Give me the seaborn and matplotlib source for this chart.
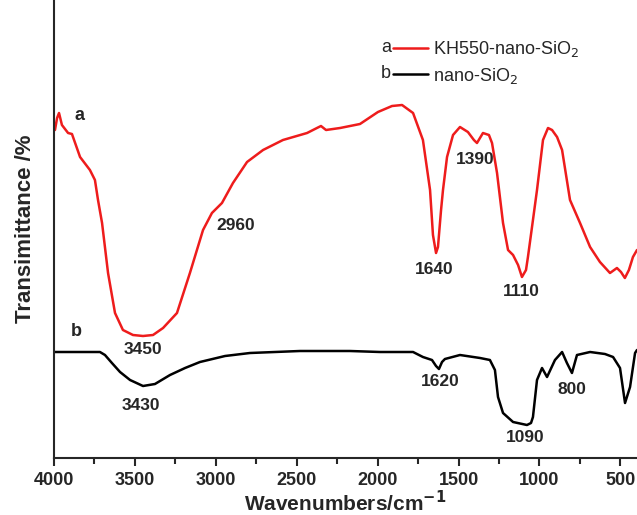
import numpy as np
import pandas as pd
import matplotlib
matplotlib.use("Agg")
import matplotlib.pyplot as plt
import seaborn as sns
from matplotlib.ticker import MultipleLocator

# FTIR spectra: wavenumber (cm-1) and transmittance (arbitrary offset units)
wn_a = [3994, 3981, 3969, 3951, 3913, 3889, 3839, 3778, 3747, 3728, 3703, 3666,
        3623, 3574, 3512, 3450, 3388, 3326, 3240, 3160, 3079, 3024, 2962, 2894,
        2807, 2708, 2585, 2436, 2375, 2350, 2319, 2232, 2109, 1998, 1911, 1849,
        1781, 1720, 1676, 1658, 1639, 1627, 1608, 1596, 1571, 1534, 1491, 1442,
        1405, 1386, 1349, 1312, 1293, 1262, 1225, 1194, 1163, 1132, 1108, 1083,
        1071, 1040, 1015, 978, 947, 922, 891, 860, 811, 749, 687, 626, 564, 521,
        496, 472, 447, 422, 397]
t_a = [82.5, 85.5, 86.75, 83.75, 81.75, 81.5, 75.75, 72.5, 70, 65, 59.25, 46.75,
       36.75, 32.5, 31.25, 31, 31.25, 33, 36.75, 46.75, 57.5, 61.75, 64.25, 69.25,
       74.5, 77.5, 80, 81.75, 83, 83.5, 82.5, 83, 84, 87, 88.5, 88.75,
       86.75, 80, 67.5, 56.25, 51.75, 53.25, 62.5, 67.5, 75.75, 81.25, 83.25, 82,
       80, 79.25, 81.75, 81.25, 79.25, 71.75, 59.25, 52.5, 51.25, 48.75, 45.75, 47.5,
       50.75, 60, 67.5, 80, 83, 82.5, 80.75, 77.5, 65, 59.25, 53.25, 49.5, 46.75, 48,
       47, 45.5, 47.5, 50.75, 52.5]

wn_b = [3994, 3839, 3716, 3685, 3642, 3592, 3530, 3450, 3376, 3283, 3190, 3098,
        2943, 2789, 2480, 2171, 1985, 1781, 1720, 1664, 1639, 1621, 1602, 1584,
        1491, 1367, 1306, 1275, 1256, 1225, 1163, 1077, 1052, 1040, 1015, 984,
        953, 904, 860, 830, 799, 768, 687, 595, 545, 502, 471, 440, 409, 397]
t_b = [27, 27, 27, 26.25, 24.25, 22, 20, 18.5, 19, 21.25, 23, 24.5,
       26, 26.75, 27.25, 27.25, 27, 27, 25.75, 25, 23.5, 22.75, 24.5, 25.25,
       26.25, 25.5, 25, 22.5, 15.75, 11.75, 9.5, 8.75, 9.25, 10.75, 20, 23,
       20.75, 25, 27, 24.25, 21.75, 26.25, 27, 26.5, 25.75, 23, 14.25, 18.25, 26.75, 27.5]

samples = ["KH550-nano-SiO$_2$", "nano-SiO$_2$"]
sample_tags = ["a", "b"]
colors = ["#ee1c1c", "#000000"]

# band assignments: (wavenumber label, text x, text y)
band_labels = [
    ("3450", 3450, 27.5),
    ("2960", 2880, 58.5),
    ("1640", 1650, 47.5),
    ("1390", 1395, 75.0),
    ("1110", 1110, 42.0),
    ("3430", 3460, 13.5),
    ("1620", 1610, 19.5),
    ("800", 800, 17.5),
    ("1090", 1085, 5.5),
]

df = pd.concat([
    pd.DataFrame({"wavenumber": wn_a, "T": t_a, "sample": samples[0]}),
    pd.DataFrame({"wavenumber": wn_b, "T": t_b, "sample": samples[1]}),
])

sns.set_style("ticks")
plt.rcParams["font.family"] = ["Liberation Sans", "DejaVu Sans"]

fig = plt.figure(figsize=(6.37, 5.15), dpi=100)
ax = fig.add_axes([54 / 637, 1 - 458 / 515, 1 - 54 / 637, 458 / 515])

sns.lineplot(data=df, x="wavenumber", y="T", hue="sample", palette=colors,
             estimator=None, linewidth=1.8, ax=ax, legend=False)

ax.set_xlim(4000, 397)
ax.set_ylim(0.5, 115)
ax.xaxis.set_major_locator(MultipleLocator(500))
ax.xaxis.set_minor_locator(MultipleLocator(250))
ax.tick_params(axis="x", which="major", direction="out", length=6, width=1.5,
               labelsize=13, pad=4)
ax.tick_params(axis="x", which="minor", direction="out", length=4, width=1.5)
for lab in ax.get_xticklabels():
    lab.set_fontweight("bold")
ax.set_yticks([])
for side in ("top", "right"):
    ax.spines[side].set_visible(False)
for side in ("left", "bottom"):
    ax.spines[side].set_linewidth(1.5)

ax.set_xlabel("Wavenumbers/cm$^{\\mathbf{-1}}$", fontsize=15, fontweight="bold", labelpad=1)
ax.set_ylabel("Transimittance /%", fontsize=16, fontweight="bold", labelpad=13)

for txt, x, y in band_labels:
    ax.text(x, y, txt, ha="center", va="center", fontsize=12.5, fontweight="bold")

# curve tags
ax.text(3840, 86, sample_tags[0], ha="center", va="center", fontsize=13, fontweight="bold")
ax.text(3860, 32, sample_tags[1], ha="center", va="center", fontsize=13, fontweight="bold")

# legend with tag letters in front of the handles
handles = [plt.Line2D([], [], color=c, lw=1.8) for c in colors]
leg = ax.legend(handles, samples, loc="upper left", bbox_to_anchor=(0.5695, 0.93),
                frameon=False, handlelength=1.9, handletextpad=0.3,
                labelspacing=0.35, fontsize=13, borderaxespad=0)
for tag, yfrac in zip(sample_tags, [1 - 47 / 458, 1 - 74 / 458]):
    ax.text((386 - 54) / 583, yfrac, tag, transform=ax.transAxes, ha="center",
            va="center", fontsize=13)

fig.savefig("out.png", dpi=100)
